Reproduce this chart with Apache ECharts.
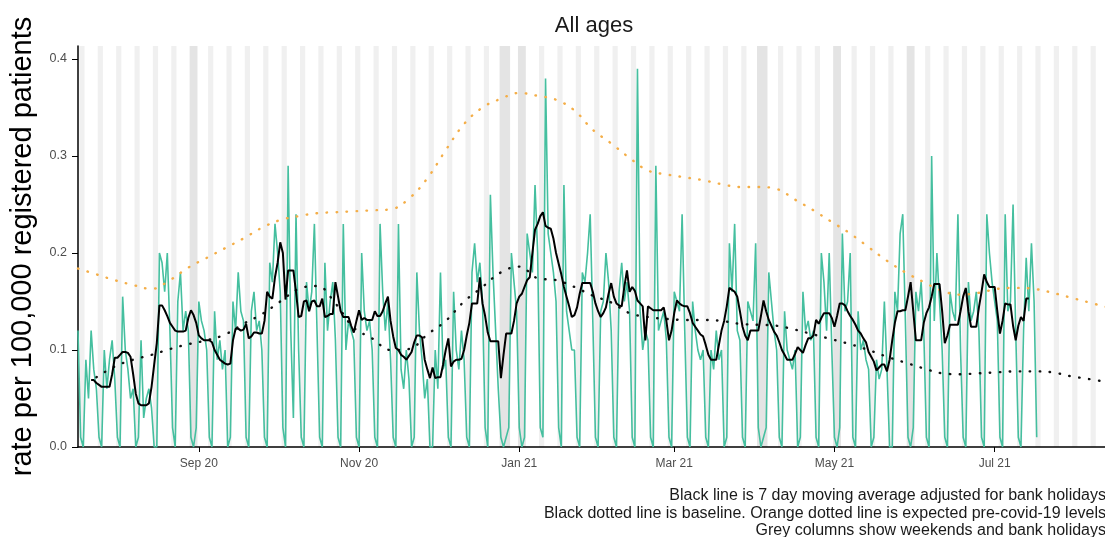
<!DOCTYPE html>
<html>
<head>
<meta charset="utf-8">
<script src="https://cdn.jsdelivr.net/npm/echarts@6/dist/echarts.min.js"></script>
<style>
  html, body { margin: 0; padding: 0; background: #ffffff; }
  #chart { width: 1105px; height: 537px; }
</style>
</head>
<body>
<div id="chart"></div>
<script>
// Daily consultation rate per 100,000 registered patients, all ages.
// Day 0 is Friday 17 July 2020; the x axis counts days from it and runs for 391 days.
const AXIS_DAYS = 391;

// Daily rate: Fri–Sun of the first week, then Monday..Sunday rows.
const dailyRate = [
  0.12, 0.01, 0.0,
  0.09, 0.05, 0.12, 0.08, 0.06, 0.01, 0.0,
  0.10, 0.06, 0.09, 0.11, 0.07, 0.01, 0.0,
  0.155, 0.10, 0.08, 0.05, 0.06, 0.0, 0.01,
  0.11, 0.03, 0.05, 0.06, 0.04, 0.0, 0.0,
  0.20, 0.19, 0.16, 0.20, 0.12, 0.02, 0.0,
  0.15, 0.18, 0.12, 0.14, 0.12, 0.01, 0.0,
  0.02, 0.15, 0.13, 0.12, 0.10, 0.01, 0.0,
  0.14, 0.09, 0.11, 0.08, 0.10, 0.0, 0.01,
  0.15, 0.12, 0.18, 0.14, 0.13, 0.01, 0.0,
  0.14, 0.16, 0.12, 0.13, 0.10, 0.01, 0.0,
  0.19, 0.17, 0.23, 0.20, 0.16, 0.02, 0.0,
  0.29, 0.12, 0.03, 0.24, 0.10, 0.01, 0.0,
  0.17, 0.14, 0.16, 0.23, 0.12, 0.01, 0.0,
  0.19, 0.12, 0.15, 0.17, 0.11, 0.01, 0.0,
  0.23, 0.10, 0.13, 0.12, 0.11, 0.01, 0.0,
  0.20, 0.14, 0.12, 0.13, 0.10, 0.01, 0.0,
  0.23, 0.16, 0.12, 0.15, 0.09, 0.01, 0.0,
  0.23, 0.08, 0.06, 0.10, 0.07, 0.0, 0.01,
  0.18, 0.12, 0.09, 0.05, 0.07, 0.0, 0.0,
  0.10, 0.06, 0.18, 0.08, 0.09, 0.01, 0.0,
  0.16, 0.10, 0.08, 0.12, 0.09, 0.01, 0.0,
  0.18, 0.21, 0.17, 0.19, 0.15, 0.02, 0.0,
  0.26, 0.18, 0.12, 0.06, 0.01, 0.0, 0.01,
  0.02, 0.20, 0.17, 0.14, 0.02, 0.0, 0.01,
  0.22, 0.20, 0.18, 0.27, 0.20, 0.02, 0.01,
  0.38, 0.22, 0.20, 0.18, 0.15, 0.02, 0.0,
  0.27, 0.14, 0.12, 0.10, 0.10, 0.01, 0.0,
  0.18, 0.17, 0.20, 0.24, 0.13, 0.01, 0.0,
  0.14, 0.15, 0.20, 0.17, 0.12, 0.01, 0.0,
  0.16, 0.19, 0.15, 0.17, 0.14, 0.01, 0.0,
  0.39, 0.14, 0.10, 0.12, 0.11, 0.01, 0.0,
  0.29, 0.12, 0.13, 0.14, 0.11, 0.01, 0.0,
  0.16, 0.15, 0.14, 0.24, 0.12, 0.01, 0.0,
  0.15, 0.12, 0.10, 0.09, 0.10, 0.01, 0.0,
  0.10, 0.08, 0.12, 0.09, 0.10, 0.0, 0.01,
  0.21, 0.16, 0.23, 0.12, 0.11, 0.01, 0.0,
  0.15, 0.14, 0.13, 0.21, 0.02, 0.0, 0.01,
  0.02, 0.18, 0.15, 0.12, 0.10, 0.01, 0.0,
  0.14, 0.10, 0.09, 0.08, 0.10, 0.0, 0.01,
  0.16, 0.12, 0.13, 0.11, 0.12, 0.01, 0.0,
  0.20, 0.17, 0.12, 0.20, 0.10, 0.01, 0.0,
  0.02, 0.22, 0.14, 0.15, 0.20, 0.01, 0.0,
  0.14, 0.10, 0.11, 0.09, 0.08, 0.0, 0.01,
  0.09, 0.07, 0.08, 0.15, 0.08, 0.0, 0.0,
  0.16, 0.14, 0.22, 0.24, 0.13, 0.01, 0.0,
  0.02, 0.16, 0.14, 0.17, 0.12, 0.01, 0.0,
  0.30, 0.13, 0.20, 0.15, 0.10, 0.01, 0.0,
  0.16, 0.14, 0.13, 0.24, 0.10, 0.01, 0.0,
  0.17, 0.13, 0.14, 0.16, 0.12, 0.01, 0.0,
  0.24, 0.20, 0.17, 0.15, 0.13, 0.01, 0.0,
  0.24, 0.14, 0.15, 0.25, 0.12, 0.01, 0.0,
  0.12, 0.195, 0.14, 0.21, 0.15, 0.01
];

// 7 day moving average adjusted for bank holidays, from day 5 onwards.
const MA_FIRST_DAY = 5;
const movingAverage = [
  0.069, 0.069, 0.066, 0.064, 0.062, 0.062, 0.062, 0.062, 0.075, 0.092,
  0.092, 0.095, 0.098, 0.098, 0.097, 0.093, 0.075, 0.055, 0.045, 0.043,
  0.043, 0.043, 0.045, 0.062, 0.085, 0.107, 0.146, 0.146, 0.141, 0.135,
  0.128, 0.124, 0.120, 0.119, 0.119, 0.119, 0.120, 0.133, 0.141, 0.136,
  0.128, 0.115, 0.112, 0.110, 0.110, 0.110, 0.108, 0.100, 0.095, 0.090,
  0.088, 0.086, 0.085, 0.086, 0.110, 0.122, 0.122, 0.120, 0.121, 0.127,
  0.112, 0.114, 0.118, 0.118, 0.117, 0.117, 0.130, 0.160, 0.155, 0.153,
  0.175, 0.190, 0.211, 0.200, 0.152, 0.182, 0.182, 0.182, 0.160, 0.134,
  0.135, 0.150, 0.151, 0.140, 0.150, 0.151, 0.145, 0.145, 0.153, 0.134,
  0.135, 0.137, 0.137, 0.170, 0.155, 0.140, 0.134, 0.134, 0.134, 0.125,
  0.118, 0.130, 0.141, 0.131, 0.133, 0.131, 0.131, 0.131, 0.140, 0.135,
  0.135, 0.140, 0.148, 0.155, 0.130, 0.114, 0.102, 0.100, 0.095, 0.093,
  0.090, 0.094, 0.098, 0.108, 0.115, 0.115, 0.113, 0.090, 0.080, 0.071,
  0.082, 0.071, 0.072, 0.072, 0.085, 0.100, 0.112, 0.083, 0.088, 0.090,
  0.090, 0.091, 0.100, 0.115, 0.128, 0.148, 0.148, 0.148, 0.175, 0.148,
  0.135, 0.118, 0.109, 0.109, 0.109, 0.109, 0.071, 0.095, 0.117, 0.117,
  0.117, 0.130, 0.148, 0.155, 0.158, 0.165, 0.172, 0.175, 0.200, 0.224,
  0.230, 0.238, 0.242, 0.228, 0.226, 0.225, 0.215, 0.200, 0.189, 0.178,
  0.165, 0.155, 0.145, 0.134, 0.136, 0.144, 0.158, 0.169, 0.169, 0.169,
  0.169, 0.160, 0.148, 0.140, 0.134, 0.138, 0.144, 0.158, 0.169, 0.155,
  0.148, 0.146, 0.145, 0.165, 0.182, 0.160, 0.165, 0.161, 0.151, 0.148,
  0.145, 0.110, 0.145, 0.143, 0.141, 0.141, 0.141, 0.141, 0.144, 0.130,
  0.110, 0.120, 0.138, 0.151, 0.148, 0.146, 0.145, 0.145, 0.138, 0.128,
  0.124, 0.120, 0.116, 0.114, 0.105, 0.095, 0.090, 0.090, 0.090, 0.105,
  0.120, 0.130, 0.145, 0.164, 0.162, 0.160, 0.155, 0.140, 0.124, 0.115,
  0.110, 0.120, 0.120, 0.120, 0.120, 0.135, 0.151, 0.140, 0.131, 0.125,
  0.119, 0.115, 0.108, 0.100, 0.095, 0.090, 0.090, 0.090, 0.096, 0.103,
  0.100, 0.097, 0.105, 0.112, 0.112, 0.115, 0.131, 0.127, 0.133, 0.138,
  0.138, 0.138, 0.133, 0.124, 0.135, 0.148, 0.148, 0.146, 0.140, 0.135,
  0.131, 0.126, 0.120, 0.117, 0.112, 0.108, 0.098, 0.093, 0.088, 0.079,
  0.082, 0.085, 0.085, 0.078, 0.090, 0.110, 0.128, 0.140, 0.140, 0.141,
  0.141, 0.155, 0.170, 0.140, 0.110, 0.110, 0.110, 0.128, 0.138, 0.144,
  0.155, 0.168, 0.168, 0.168, 0.140, 0.107, 0.115, 0.126, 0.126, 0.126,
  0.126, 0.140, 0.155, 0.164, 0.140, 0.124, 0.124, 0.124, 0.144, 0.160,
  0.178, 0.170, 0.165, 0.165, 0.165, 0.140, 0.117, 0.130, 0.148, 0.147,
  0.147, 0.125, 0.110, 0.125, 0.134, 0.130, 0.153, 0.153
];

// Baseline, one value per week starting at day 7.
const BASELINE_FIRST_DAY = 7;
const baseline = [
  0.072, 0.083, 0.090, 0.095, 0.101, 0.106, 0.110, 0.116, 0.127, 0.137,
  0.150, 0.163, 0.166, 0.148, 0.123, 0.112, 0.100, 0.101, 0.116, 0.130,
  0.150, 0.165, 0.180, 0.186, 0.174, 0.172, 0.165, 0.156, 0.149, 0.138,
  0.134, 0.132, 0.131, 0.131, 0.130, 0.127, 0.126, 0.125, 0.121, 0.116,
  0.111, 0.106, 0.100, 0.093, 0.087, 0.081, 0.076, 0.075, 0.076, 0.077,
  0.078, 0.078, 0.077, 0.073, 0.070, 0.067
];

// Expected pre-covid-19 level, one value per week starting at day 0.
const EXPECTED_FIRST_DAY = 0;
const expected = [
  0.184, 0.178, 0.172, 0.167, 0.163, 0.172, 0.185, 0.195, 0.205, 0.215,
  0.226, 0.234, 0.238, 0.241, 0.242, 0.243, 0.244, 0.245, 0.256, 0.277,
  0.306, 0.333, 0.350, 0.359, 0.365, 0.362, 0.358, 0.347, 0.327, 0.313,
  0.298, 0.285, 0.281, 0.278, 0.275, 0.271, 0.268, 0.268, 0.266, 0.255,
  0.244, 0.232, 0.220, 0.206, 0.192, 0.180, 0.170, 0.161, 0.157, 0.159,
  0.163, 0.164, 0.163, 0.159, 0.154, 0.149, 0.144
];

const bankHolidays = [
  '2020-08-31', '2020-12-25', '2020-12-28', '2021-01-01',
  '2021-04-02', '2021-04-05', '2021-05-03', '2021-05-31'
];

const xTickDates = ['2020-09-01', '2020-11-01', '2021-01-01', '2021-03-01', '2021-05-01', '2021-07-01'];
const xTickLabels = ['Sep 20', 'Nov 20', 'Jan 21', 'Mar 21', 'May 21', 'Jul 21'];
const yTicks = [0, 0.1, 0.2, 0.3, 0.4];

const captionLines = [
  'Black line is 7 day moving average adjusted for bank holidays',
  'Black dotted line is baseline. Orange dotted line is expected pre-covid-19 levels',
  'Grey columns show weekends and bank holidays'
];

// ---- helpers -------------------------------------------------------------
const DAY_MS = 24 * 3600 * 1000;
const START = new Date(2020, 6, 17);
function dateOfDay(d) { return new Date(2020, 6, 17 + d); }
function parseDate(s) {
  const p = s.split('-').map(Number);
  return new Date(p[0], p[1] - 1, p[2]);
}
function dayOf(s) { return Math.round((parseDate(s) - START) / DAY_MS); }
function dateKey(dt) {
  return dt.getFullYear() + '-' + String(dt.getMonth() + 1).padStart(2, '0') + '-' + String(dt.getDate()).padStart(2, '0');
}

const holidaySet = new Set(bankHolidays);
const xTickDays = xTickDates.map(dayOf);
const xLabelOf = {};
xTickDays.forEach((d, i) => { xLabelOf[d] = xTickLabels[i]; });

// Grey columns: runs of weekend / bank holiday days, each day spanning +-half a day.
const columnAreas = [];
let runStart = null, runHasHoliday = false;
for (let d = -1; d <= AXIS_DAYS + 1; d++) {
  const dt = dateOfDay(d);
  const key = dateKey(dt);
  const dow = dt.getDay();
  const off = d <= AXIS_DAYS && (dow === 0 || dow === 6 || holidaySet.has(key));
  if (off) {
    if (runStart === null) { runStart = d; runHasHoliday = false; }
    if (holidaySet.has(key)) runHasHoliday = true;
  } else if (runStart !== null) {
    const color = runHasHoliday ? 'rgba(0,0,0,0.105)' : 'rgba(0,0,0,0.06)';
    columnAreas.push([
      { xAxis: Math.max(0, runStart - 0.5), itemStyle: { color: color } },
      { xAxis: Math.min(AXIS_DAYS, d - 0.5) }
    ]);
    runStart = null;
  }
}

const dailyData = dailyRate.map((v, i) => [i, v]);
const maData = movingAverage.map((v, i) => [MA_FIRST_DAY + i, v]);
const baselineData = baseline.map((v, i) => [BASELINE_FIRST_DAY + i * 7, v]);
const expectedData = expected.map((v, i) => [EXPECTED_FIRST_DAY + i * 7, v]);

const FONT = "'Liberation Sans', Arial, Helvetica, sans-serif";

const chart = echarts.init(document.getElementById('chart'), null, { renderer: 'canvas' });
chart.setOption({
  animation: false,
  backgroundColor: '#ffffff',
  grid: { left: 74, right: 0, top: 46, bottom: 90, containLabel: false },
  xAxis: {
    type: 'value',
    min: 0,
    max: AXIS_DAYS,
    axisLine: { show: true, onZero: false, lineStyle: { color: '#000', width: 1.5 } },
    axisTick: { show: true, customValues: xTickDays, length: 5, lineStyle: { color: '#000', width: 1 } },
    axisLabel: {
      show: true,
      customValues: xTickDays,
      formatter: v => xLabelOf[v] || '',
      color: '#4d4d4d',
      fontFamily: FONT,
      fontSize: 12,
      margin: 11
    },
    splitLine: { show: false }
  },
  yAxis: {
    type: 'value',
    min: 0,
    max: 0.4134,
    name: 'rate per 100,000 registered patients',
    nameLocation: 'middle',
    nameGap: 41,
    nameTextStyle: { color: '#000', fontFamily: FONT, fontSize: 29 },
    axisLine: { show: true, lineStyle: { color: '#000', width: 1.5 } },
    axisTick: { show: true, customValues: yTicks, length: 6, lineStyle: { color: '#000', width: 1 } },
    axisLabel: {
      customValues: yTicks,
      formatter: v => v.toFixed(1),
      color: '#4d4d4d',
      fontFamily: FONT,
      fontSize: 12.5,
      margin: 11
    },
    splitLine: { show: false }
  },
  graphic: [
    {
      type: 'text',
      x: 594, y: 26,
      style: {
        text: 'All ages',
        textAlign: 'center',
        textVerticalAlign: 'middle',
        fill: '#1a1a1a',
        font: '22px ' + FONT
      }
    },
    {
      type: 'text',
      x: 1106, y: 487,
      style: {
        text: captionLines.join('\n'),
        textAlign: 'right',
        textVerticalAlign: 'top',
        fill: '#1a1a1a',
        font: '16px ' + FONT,
        lineHeight: 17.5
      }
    }
  ],
  series: [
    {
      name: 'daily rate',
      type: 'line',
      data: dailyData,
      showSymbol: false,
      z: 2,
      lineStyle: { color: '#45bf9f', width: 1.6 },
      markArea: {
        silent: true,
        itemStyle: { color: 'rgba(0,0,0,0.06)' },
        label: { show: false },
        data: columnAreas
      }
    },
    {
      name: 'expected',
      type: 'line',
      data: expectedData,
      showSymbol: false,
      smooth: 0.4,
      z: 3,
      lineStyle: { color: '#f4ae48', width: 2.4, type: [0.5, 9.5], cap: 'round' }
    },
    {
      name: 'baseline',
      type: 'line',
      data: baselineData,
      showSymbol: false,
      smooth: 0.4,
      z: 3,
      lineStyle: { color: '#111', width: 2.4, type: [0.5, 9.5], cap: 'round' }
    },
    {
      name: 'moving average',
      type: 'line',
      data: maData,
      showSymbol: false,
      z: 4,
      lineStyle: { color: '#000', width: 2 }
    }
  ]
});
</script>
</body>
</html>
